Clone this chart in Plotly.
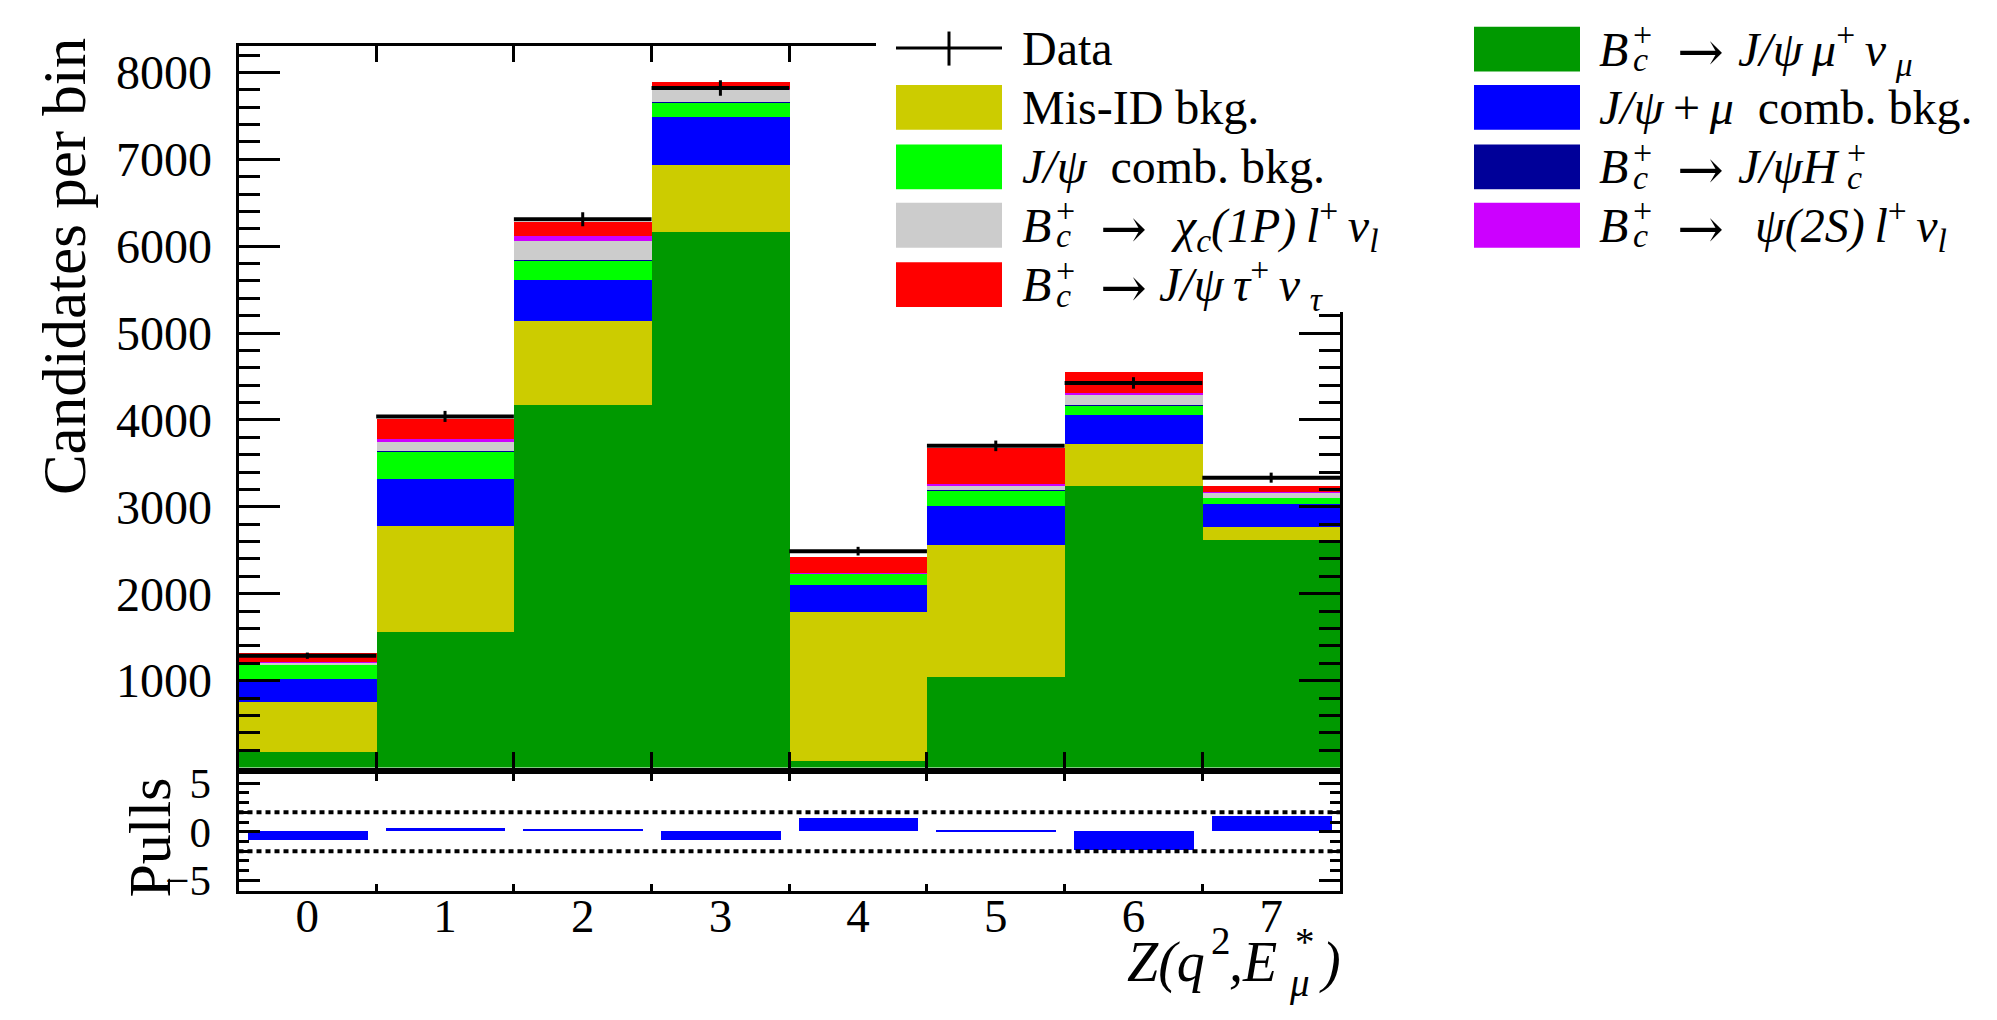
import numpy as np
import plotly.graph_objects as go

# ---- data ----------------------------------------------------------------
bins = [0, 1, 2, 3, 4, 5, 6, 7]
bin_labels = ["0", "1", "2", "3", "4", "5", "6", "7"]

sig_mu = [179, 1560, 4175, 6164, 80, 1041, 3243, 2620]        # Bc -> J/psi mu nu
mis_id = [578, 1227, 971, 769, 1715, 1523, 485, 150]           # Mis-ID bkg.
comb_mu = [262, 538, 466, 552, 303, 448, 332, 260]             # J/psi + mu comb. bkg.
jpsi_comb = [168, 313, 224, 172, 134, 175, 109, 75]            # J/psi comb. bkg.
jpsi_hc = [3, 11, 10, 10, 3, 5, 5, 3]                          # Bc -> J/psi H_c
chic = [15, 94, 214, 139, 5, 59, 114, 60]                      # Bc -> chi_c(1P) l nu
psi2s = [10, 44, 63, 10, 2, 18, 26, 8]                         # Bc -> psi(2S) l nu
tau = [102, 228, 161, 72, 180, 414, 239, 67]                   # Bc -> J/psi tau nu

data = [1287, 4041, 6310, 7821, 2490, 3702, 4426, 3336]
pulls = [-0.85, 0.40, 0.23, -0.83, 1.43, 0.17, -1.93, 1.57]

main_yticks = [1000, 2000, 3000, 4000, 5000, 6000, 7000, 8000]
pull_yticks = [-5, 0, 5]
bin_edges = [0.5, 1.5, 2.5, 3.5, 4.5, 5.5, 6.5]

# ---- page geometry (pixels) ---------------------------------------------
W, H = 1997, 1020
FONT = "Liberation Serif, Times New Roman, serif"
ARROW_FONT = "DejaVu Serif, DejaVu Sans, serif"


def fx(p):
    return p / W


def fy(p):
    return 1 - p / H


X_L, X_R = 238.5, 1340
MAIN_TOP, MAIN_BOT = 32.7, 774
PULL_TOP, PULL_BOT = 781, 901

COL = dict(
    sig="#009900", misid="#cccc00", comb="#0000ff", jcomb="#00ff00",
    hc="#000099", chic="#cccccc", psi="#cc00ff", tau="#ff0000",
)

fig = go.Figure()

stack = [
    (sig_mu, COL["sig"]), (mis_id, COL["misid"]), (comb_mu, COL["comb"]),
    (jpsi_comb, COL["jcomb"]), (jpsi_hc, COL["hc"]), (chic, COL["chic"]),
    (psi2s, COL["psi"]), (tau, COL["tau"]),
]
for vals, c in stack:
    fig.add_trace(go.Bar(
        x=bins, y=vals, width=1.0, marker=dict(color=c, line=dict(width=0)),
        xaxis="x", yaxis="y", hoverinfo="skip",
    ))

fig.add_trace(go.Scatter(
    x=bins, y=data, mode="markers",
    marker=dict(size=1, color="black"),
    error_x=dict(type="constant", value=0.5, thickness=4, width=0, color="black"),
    error_y=dict(type="data", array=np.sqrt(np.array(data, dtype=float)),
                 thickness=3, width=0, color="black"),
    xaxis="x", yaxis="y", hoverinfo="skip",
))

fig.add_trace(go.Bar(
    x=bins, y=pulls, width=0.87, marker=dict(color="#0000ff", line=dict(width=0)),
    xaxis="x2", yaxis="y2", hoverinfo="skip",
))

axis_common = dict(showline=True, linewidth=3, linecolor="black", showgrid=False,
                   zeroline=False, mirror="ticks", tickcolor="black", tickwidth=3)

fig.update_layout(
    width=W, height=H, autosize=False,
    margin=dict(l=0, r=0, t=0, b=0),
    paper_bgcolor="white", plot_bgcolor="white",
    showlegend=False, barmode="relative", bargap=0,
    font=dict(family=FONT, color="black"),
    xaxis=dict(
        domain=[fx(X_L), fx(X_R)], range=[-0.5, 7.5], anchor="y",
        tickvals=bin_edges, ticks="inside", ticklen=16, showticklabels=False,
        **axis_common,
    ),
    yaxis=dict(
        domain=[fy(MAIN_BOT), fy(MAIN_TOP)], range=[0, 8306], anchor="x",
        tickvals=main_yticks, ticks="inside", ticklen=41,
        tickfont=dict(size=48, family=FONT), ticklabelstandoff=14,
        minor=dict(dtick=200, tick0=0, ticks="inside", ticklen=21,
                   tickwidth=3, tickcolor="black"),
        **axis_common,
    ),
    xaxis2=dict(
        domain=[fx(X_L), fx(X_R)], range=[-0.5, 7.5], anchor="y2",
        tickvals=bins, ticktext=bin_labels, ticks="inside", ticklen=0,
        tickfont=dict(size=47, family=FONT), ticklabelstandoff=-19,
        minor=dict(tickvals=bin_edges, ticks="inside", ticklen=7,
                   tickwidth=3, tickcolor="black"),
        **axis_common,
    ),
    yaxis2=dict(
        domain=[fy(PULL_BOT), fy(PULL_TOP)], range=[-6.1, 5.9], anchor="x2",
        tickvals=pull_yticks, ticks="inside", ticklen=21,
        tickfont=dict(size=43, family=FONT), ticklabelstandoff=16,
        minor=dict(dtick=1, tick0=0, ticks="inside", ticklen=10,
                   tickwidth=3, tickcolor="black"),
        **axis_common,
    ),
)

shapes = []
# +-2 sigma guide lines in the pull panel
for lvl in (2, -2):
    shapes.append(dict(type="line", xref="x2", yref="y2", x0=-0.5, x1=7.5,
                       y0=lvl, y1=lvl, layer="above",
                       line=dict(color="black", width=4, dash="5px,4px")))

# legend background
shapes.append(dict(type="rect", xref="paper", yref="paper",
                   x0=fx(876), x1=1.0, y0=fy(306), y1=1.0,
                   fillcolor="white", line=dict(width=0), layer="above"))

# legend: data symbol
shapes.append(dict(type="line", xref="paper", yref="paper",
                   x0=fx(896), x1=fx(1002), y0=fy(35), y1=fy(35),
                   line=dict(color="black", width=3), layer="above"))
shapes.append(dict(type="line", xref="paper", yref="paper",
                   x0=fx(949), x1=fx(949), y0=fy(18), y1=fy(53),
                   line=dict(color="black", width=3), layer="above"))

BOX_W, BOX_H = 106, 46
col1_box, col2_box = 896, 1474
legend_boxes = [
    (col1_box, 96, COL["misid"]), (col1_box, 157, COL["jcomb"]),
    (col1_box, 217, COL["chic"]), (col1_box, 278, COL["tau"]),
    (col2_box, 36, COL["sig"]), (col2_box, 96, COL["comb"]),
    (col2_box, 157, COL["hc"]), (col2_box, 217, COL["psi"]),
]
for bx, by, c in legend_boxes:
    shapes.append(dict(type="rect", xref="paper", yref="paper",
                       x0=fx(bx), x1=fx(bx + BOX_W),
                       y0=fy(by + BOX_H / 2), y1=fy(by - BOX_H / 2),
                       fillcolor=c, line=dict(width=0), layer="above"))

fig.update_layout(shapes=shapes)

annots = []
LEG_SIZE = 48
SUB_SIZE = 34


def text(x, y, s, size=LEG_SIZE, anchor="left", angle=0, family=FONT):
    annots.append(dict(xref="paper", yref="paper", x=fx(x), y=fy(y), text=s,
                       showarrow=False, xanchor=anchor, yanchor="middle",
                       textangle=angle, borderpad=0,
                       font=dict(size=size, family=family, color="black")))


def stacked(x, y, sup, sub):
    text(x, y - 15, sup, size=SUB_SIZE)
    text(x, y + 11, sub, size=SUB_SIZE)


def bc_label(x, y, rest, rest_x):
    text(x, y, "<i>B</i>")
    stacked(x + 34, y, "+", "<i>c</i>")
    text(x + 78, y + 3, "→", size=56, family=ARROW_FONT)
    text(rest_x, y, rest)


T1, T2 = 1021, 1598
text(T1, 35, "Data")
text(T1, 96, "Mis-ID bkg.")
text(T1, 157, "<i>J/ψ</i>\u2002comb. bkg.")
bc_label(T1, 217,
         "<i>χ</i><sub><i>c</i></sub><i>(1P)\u2009l</i><sup>+</sup>\u2009<i>ν</i><sub><i>l</i></sub>",
         1170)
bc_label(T1, 278,
         "<i>J/ψ\u2009τ</i><sup>+</sup>\u2009<i>ν</i>\u2009<sub><i>τ</i></sub>", 1158)

bc_label(T2, 36,
         "<i>J/ψ\u2009μ</i><sup>+</sup>\u2009<i>ν</i>\u2009<sub><i>μ</i></sub>", 1737)
text(T2, 96, "<i>J/ψ</i>\u2009+\u2009<i>μ</i>\u2002comb. bkg.")
bc_label(T2, 157, "<i>J/ψH</i>", 1737)
stacked(1846, 157, "+", "<i>c</i>")
bc_label(T2, 217,
         "<i>ψ(2S)\u2009l</i><sup>+</sup>\u2009<i>ν</i><sub><i>l</i></sub>", 1754)

# axis titles
text(64, 260, "Candidates per bin", size=61, anchor="center", angle=-90)
text(150, 846, "Pulls", size=60, anchor="center", angle=-90)

# Z(q^2, E*_mu) assembled from pieces so the * and mu stack over each other
XT = 56
text(1126, 974, "<i>Z(q</i>", size=XT)
text(1210, 952, "2", size=39)
text(1228, 974, "<i>,E</i>", size=XT)
text(1294, 953, "*", size=39)
text(1288, 995, "<i>μ</i>", size=39)
text(1318, 974, "<i>)</i>", size=XT)

fig.update_layout(annotations=annots)

fig.write_html("out.html")
